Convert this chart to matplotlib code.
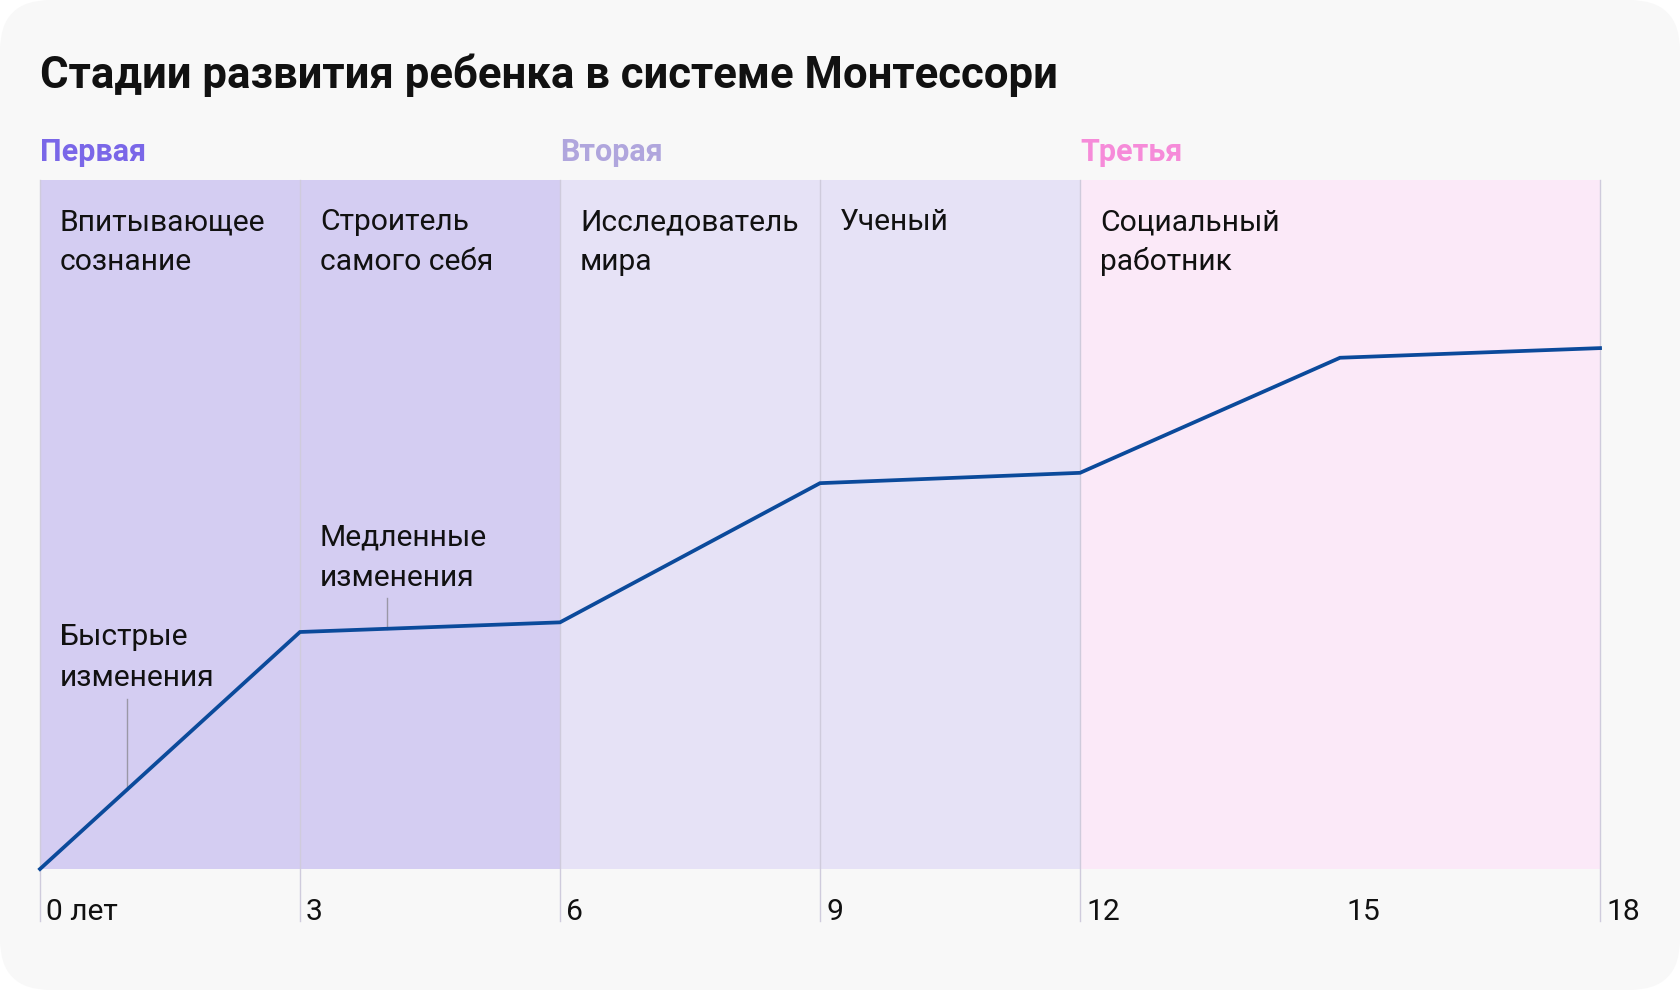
import matplotlib.pyplot as plt
from matplotlib.patches import FancyBboxPatch
from matplotlib.transforms import blended_transform_factory

plt.rcParams['font.family'] = ['Roboto', 'DejaVu Sans']

# данные
ages = [0, 3, 6, 9, 12, 15, 18]
development = [0, 34.4, 35.8, 56.0, 57.5, 74.2, 75.6]
tick_labels = ['0 лет', '3', '6', '9', '12', '15', '18']

stage_names = ['Первая', 'Вторая', 'Третья']
stage_starts = [0, 6, 12]
stage_ends = [6, 12, 18]
stage_colors = ['#d4cdf2', '#e6e2f6', '#fbe9f8']
stage_title_colors = ['#7a67e8', '#b0a6dd', '#f68bd9']

period_starts = [0, 3, 6, 9, 12]
period_names = ['Впитывающее\nсознание', 'Строитель\nсамого себя',
                'Исследователь\nмира', 'Ученый', 'Социальный\nработник']
separators = [0, 3, 6, 9, 12, 18]

notes = ['Быстрые\nизменения', 'Медленные\nизменения']
note_x = [1, 4]
note_text_y = [30.7, 45.2]
note_top = [24.7, 39.3]

fig = plt.figure(figsize=(16.8, 9.9), dpi=100)
fig.patch.set_facecolor('white')
card = FancyBboxPatch((0, 0), 1, 1, boxstyle='round,pad=0,rounding_size=0.03',
                      transform=fig.transFigure, facecolor='#f8f8f8',
                      edgecolor='none', mutation_aspect=1680 / 990, zorder=-5)
fig.patches.append(card)

ax = fig.add_axes([0.0238, 0.1222, 0.9286, 0.696])
ax.set_zorder(1)
ax.set_xlim(0, 18)
ax.set_ylim(0, 100)
ax.axis('off')

for s, e, c in zip(stage_starts, stage_ends, stage_colors):
    ax.axvspan(s, e, color=c, lw=0, zorder=0)

for x in separators:
    ax.plot([x, x], [-7.5, 100], color='#cfcbdc', lw=1, clip_on=False, zorder=1)

# выноски к подписям
for i in range(len(notes)):
    j = 1 if note_x[i] < 3 else 2
    xa, xb = ages[j - 1], ages[j]
    ya, yb = development[j - 1], development[j]
    yl = ya + (yb - ya) * (note_x[i] - xa) / (xb - xa)
    ax.plot([note_x[i], note_x[i]], [yl, note_top[i]], color='#9a97a6', lw=1, zorder=2)
    ax.text(note_x[i] - 0.77, note_text_y[i], notes[i], fontsize=21.6, color='#111111',
            va='center', ha='left', linespacing=1.55, zorder=3)

ax.plot(ages, development, color='#0b4a9b', lw=2.7, zorder=4, clip_on=False,
        solid_joinstyle='miter')

ty = blended_transform_factory(ax.transData, ax.transAxes)
# подписи периодов: каждая строка по своей базовой линии
for x, name in zip(period_starts, period_names):
    for k, line in enumerate(name.split('\n')):
        ax.text(x + 0.23, 0.927 - k * 0.0575, line, transform=ty, fontsize=21.6,
                color='#111111', va='baseline', ha='left')

for x, name, c in zip(stage_starts, stage_names, stage_title_colors):
    ax.text(x, 1.041, name, transform=ty, fontsize=22, color=c,
            fontweight='bold', va='center', ha='left')

for x, lab in zip(ages, tick_labels):
    ax.text(x + 0.07, -0.062, lab, transform=ty, fontsize=21.6, color='#111111',
            va='center', ha='left')

fig.text(0.0238, 0.924, 'Стадии развития ребенка в системе Монтессори',
         fontsize=31.5, fontweight='bold', color='#111111', va='center', ha='left')

fig.savefig('out.png', dpi=100, facecolor=fig.get_facecolor())
